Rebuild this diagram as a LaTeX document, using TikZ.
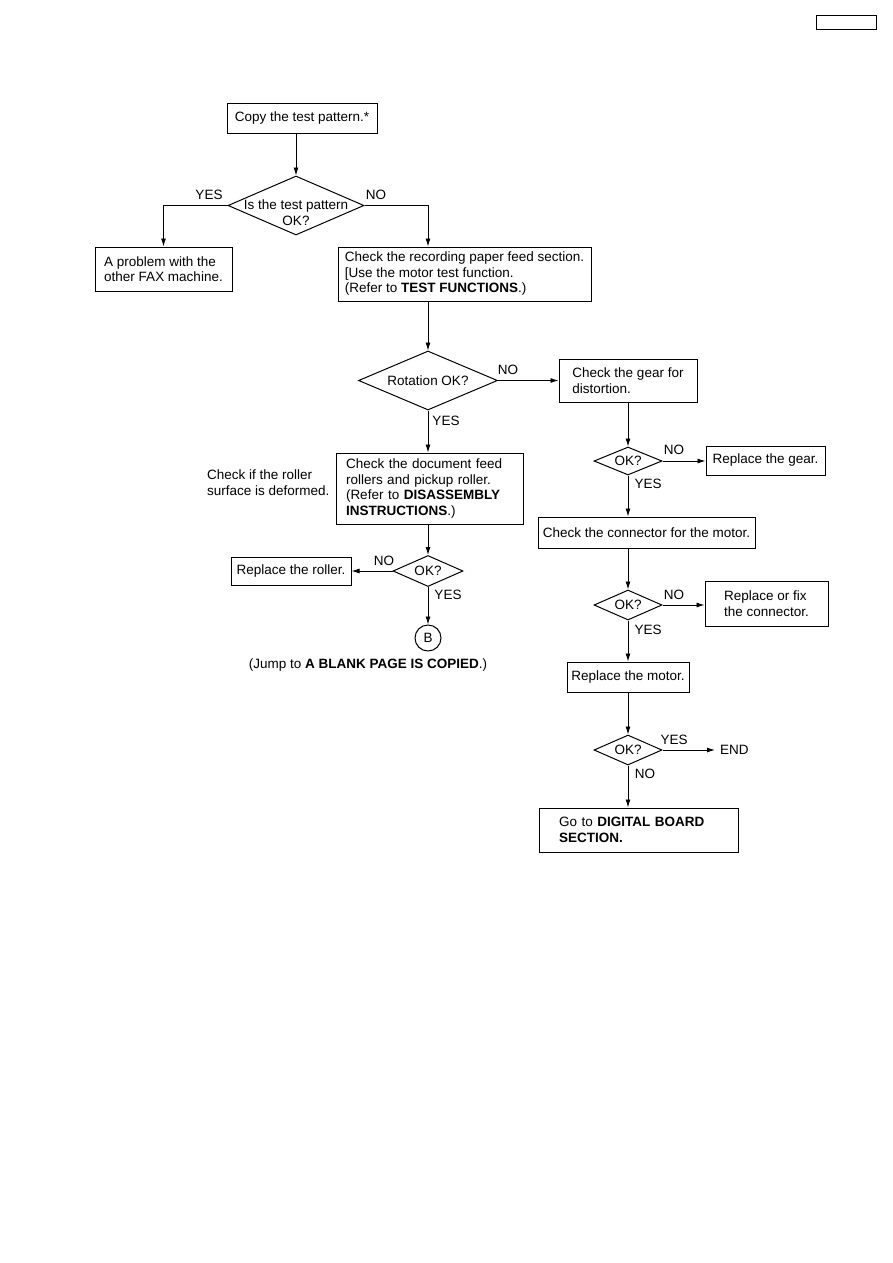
\documentclass[tikz,border=0pt]{standalone}
\usepackage{fontspec}
\setmainfont{Liberation Sans}
\usetikzlibrary{shapes.geometric,arrows.meta}
\begin{document}
\begin{tikzpicture}[x=1pt,y=-1pt,
  every node/.style={font=\fontsize{13.5}{15.5}\selectfont},
  box/.style={draw, line width=1pt, rectangle, inner ysep=0pt},
  dia/.style={draw, line width=1pt, diamond, inner sep=0pt},
  arr/.style={line width=0.9pt, -{Latex[length=8pt,width=5pt]}},
  lbl/.style={inner sep=0pt}
]
\useasboundingbox (0,0) rectangle (893,1263);
\node[box, minimum width=60pt, minimum height=14pt] (tag) at (846,23) {};
\node[box, minimum width=150pt, minimum height=30pt] (copy) at (302,118) {Copy the test pattern.*};
\node[dia, minimum width=136pt, minimum height=59pt] (d1) at (296,205.5) {};
\node[lbl, align=center] (d1t) at (296,212.5) {Is the test pattern\\OK?};
\node[lbl] (d1y) at (209,195) {YES};
\node[lbl] (d1n) at (376,195) {NO};
\node[box, minimum width=137pt, align=left, minimum height=44pt] (probA) at (163.5,269) {A problem with the\\other FAX machine.};
\node[box, minimum width=253pt, align=left, minimum height=54pt] (rec) at (464.5,274) {Check the recording paper feed section.\\{[}Use the motor test function.\\(Refer to \textbf{TEST FUNCTIONS}.)};
\coordinate (colB) at (428,0);
\draw[arr] (copy.south -| d1.north) -- (d1.north);
\draw[arr] (d1.west) -| (probA.north);
\draw[arr] (d1.east) -| (colB |- rec.north);

\node[dia, minimum width=139pt, minimum height=59pt] (rot) at (428,380.5) {};
\node[lbl] (rott) at (428,380.5) {Rotation OK?};
\draw[arr] (rec.south -| rot.north) -- (rot.north);
\node[box, minimum width=138pt, align=left, minimum height=43pt] (gear) at (628,380.5) {Check the gear for\\distortion.};
\draw[arr] (rot.east) -- (gear.west);
\node[lbl] (rotn) at (508,370) {NO};
\node[lbl] (roty) at (446,421) {YES};
\node[box, text width=167pt, inner xsep=10pt, align=left, minimum height=71pt] (doc) at (429.5,488.5) {Check the document feed\\rollers and pickup roller.\\(Refer to \textbf{DISASSEMBLY}\\\textbf{INSTRUCTIONS}.)};
\draw[arr] (rot.south) -- (rot.south |- doc.north);
\node[lbl, align=left, anchor=west] (side) at (207,482.5) {Check if the roller\\surface is deformed.};
\node[dia, minimum width=70pt, minimum height=31pt] (ok1) at (428,571) {};
\node[lbl] (ok1t) at (428,571) {OK?};
\draw[arr] (doc.south -| ok1.north) -- (ok1.north);
\node[box, minimum width=120pt, minimum height=28pt] (roller) at (291,571) {Replace the roller.};
\draw[arr] (ok1.west) -- (ok1.west -| roller.east);
\node[lbl] (ok1n) at (384,561) {NO};
\node[lbl] (ok1y) at (448,595) {YES};
\node[draw, circle, line width=1pt, minimum size=26pt, inner sep=0pt] (B) at (428,638) {B};
\draw[arr] (ok1.south) -- (B.north);
\node[lbl] (jump) at (368,665) {(Jump to \textbf{A BLANK PAGE IS COPIED}.)};

\node[dia, minimum width=68pt, minimum height=28pt] (ok2) at (628,461) {};
\node[lbl] (ok2t) at (628,461) {OK?};
\draw[arr] (gear.south) -- (ok2.north);
\node[box, minimum width=119pt, minimum height=29pt] (rgear) at (765.5,460.5) {Replace the gear.};
\draw[arr] (ok2.east) -- (ok2.east -| rgear.west);
\node[lbl] (ok2n) at (674,450) {NO};
\node[lbl] (ok2y) at (648,484) {YES};
\node[box, minimum width=217pt, minimum height=31pt] (conn) at (646.5,532.5) {Check the connector for the motor.};
\draw[arr] (ok2.south) -- (ok2.south |- conn.north);
\node[dia, minimum width=68pt, minimum height=30pt] (ok3) at (628,605) {};
\node[lbl] (ok3t) at (628,605) {OK?};
\draw[arr] (conn.south -| ok3.north) -- (ok3.north);
\node[box, minimum width=123pt, minimum height=45pt, align=left] (fix) at (766.5,603.5) {Replace or fix\\the connector.};
\draw[arr] (ok3.east) -- (ok3.east -| fix.west);
\node[lbl] (ok3n) at (674,595) {NO};
\node[lbl] (ok3y) at (648,630) {YES};
\node[box, minimum width=122pt, minimum height=30pt] (motor) at (628,677) {Replace the motor.};
\draw[arr] (ok3.south) -- (motor.north);
\node[dia, minimum width=68pt, minimum height=30pt] (ok4) at (628,750) {};
\node[lbl] (ok4t) at (628,750) {OK?};
\draw[arr] (motor.south) -- (ok4.north);
\node[inner sep=0pt, inner xsep=5pt, anchor=west] (end) at (715,750) {END};
\draw[arr] (ok4.east) -- (end.west);
\node[lbl] (ok4y) at (674,740) {YES};
\node[lbl] (ok4n) at (645,774) {NO};
\node[box, text width=159pt, inner xsep=20pt, align=left, minimum height=44pt] (dig) at (638.5,830) {Go to \textbf{DIGITAL BOARD}\\\textbf{SECTION.}};
\draw[arr] (ok4.south) -- (ok4.south |- dig.north);
\end{tikzpicture}
\end{document}
